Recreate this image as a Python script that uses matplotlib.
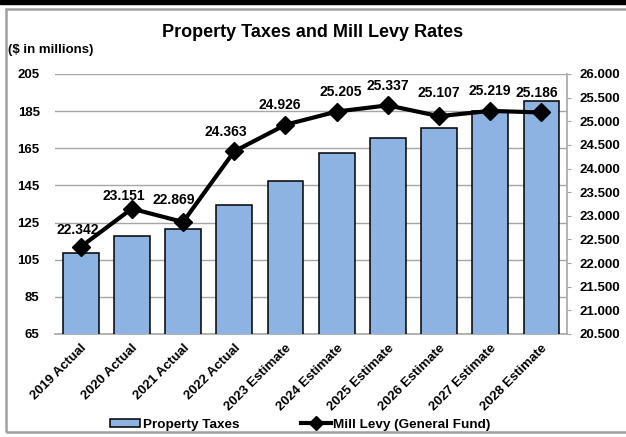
import matplotlib
matplotlib.use('Agg')
import matplotlib.pyplot as plt
from matplotlib.patches import Rectangle
from matplotlib.lines import Line2D

plt.rcParams['font.family'] = ['Liberation Sans', 'DejaVu Sans']
plt.rcParams['font.weight'] = 'bold'

categories = ['2019 Actual', '2020 Actual', '2021 Actual', '2022 Actual',
              '2023 Estimate', '2024 Estimate', '2025 Estimate',
              '2026 Estimate', '2027 Estimate', '2028 Estimate']
property_taxes = [108.4, 117.7, 121.6, 134.4, 147.3, 162.4, 170.6, 176.0, 185.0, 190.7]
mill_levy = [22.342, 23.151, 22.869, 24.363, 24.926, 25.205, 25.337, 25.107, 25.219, 25.186]
left_ticks = [65, 85, 105, 125, 145, 165, 185, 205]
right_ticks = [20.5 + 0.5 * i for i in range(12)]

# label offsets in points (dx, dy)
label_offsets = [(-2, 12), (-6, 9), (-7, 16), (-6, 14), (-4, 14),
                 (3, 14), (0, 14), (0, 17), (0, 14), (-3, 14)]

bar_color = '#8DB3E2'
grid_color = '#A6A6A6'

fig = plt.figure(figsize=(6.26, 4.37), dpi=100)
fig.patches.append(Rectangle((0, 0.99), 1, 0.01, transform=fig.transFigure,
                             color='black', zorder=0))
fig.patches.append(Rectangle((0.009, 0.011), 1.05, 0.968, transform=fig.transFigure,
                             fill=False, edgecolor='#A0A0A0', lw=1.8, zorder=0))

ax = fig.add_axes([0.0879, 0.2357, 0.8179, 0.595])
x = list(range(len(categories)))
ax.bar(x, property_taxes, width=0.7, color=bar_color, edgecolor='black',
       linewidth=1.1, zorder=3)
ax.set_ylim(65, 205)
ax.set_xlim(-0.5, len(categories) - 0.5)
ax.set_yticks(left_ticks)
ax.yaxis.grid(True, color=grid_color, lw=1.0, zorder=0)
ax.set_axisbelow(True)
ax.tick_params(axis='y', length=0, pad=11, labelsize=9.5)
ax.set_xticks(x)
ax.set_xticklabels(categories, rotation=45, ha='right', rotation_mode='anchor',
                   fontsize=9.5, fontweight='bold')
ax.tick_params(axis='x', length=0, pad=6)
for s in ['left', 'top', 'right']:
    ax.spines[s].set_visible(False)
ax.spines['bottom'].set_color(grid_color)
ax.spines['bottom'].set_linewidth(1.2)

ax2 = ax.twinx()
ax2.plot(x, mill_levy, color='black', lw=3, marker='D', markersize=9,
         zorder=5)
ax2.set_ylim(20.5, 26.0)
ax2.set_yticks(right_ticks)
ax2.set_yticklabels(['%.3f' % t for t in right_ticks])
ax2.tick_params(axis='y', direction='out', length=3, color=grid_color,
                pad=6, labelsize=9.5)
for s in ['left', 'top', 'bottom']:
    ax2.spines[s].set_visible(False)
ax2.spines['right'].set_color(grid_color)
ax2.spines['right'].set_linewidth(1.2)

for xi, v, (dx, dy) in zip(x, mill_levy, label_offsets):
    ax2.annotate('%.3f' % v, (xi, v), xytext=(dx, dy), textcoords='offset points',
                 ha='center', va='center', fontsize=10, fontweight='bold')

fig.text(0.5, 0.925, 'Property Taxes and Mill Levy Rates', ha='center',
         va='center', fontsize=13, fontweight='bold')
fig.text(0.013, 0.885, '($ in millions)', ha='left', va='center',
         fontsize=9.5, fontweight='bold')

handles = [Rectangle((0, 0), 1, 1, facecolor=bar_color, edgecolor='black', lw=1.1),
           Line2D([], [], color='black', lw=3, marker='D', markersize=7)]
fig.legend(handles, ['Property Taxes', 'Mill Levy (General Fund)'],
           loc='center', bbox_to_anchor=(0.48, 0.028), ncol=2, frameon=False,
           fontsize=9.7, handlelength=2.2, handleheight=0.55, handletextpad=0.2,
           columnspacing=4.6, borderpad=0)

fig.savefig('out.png', dpi=100)
